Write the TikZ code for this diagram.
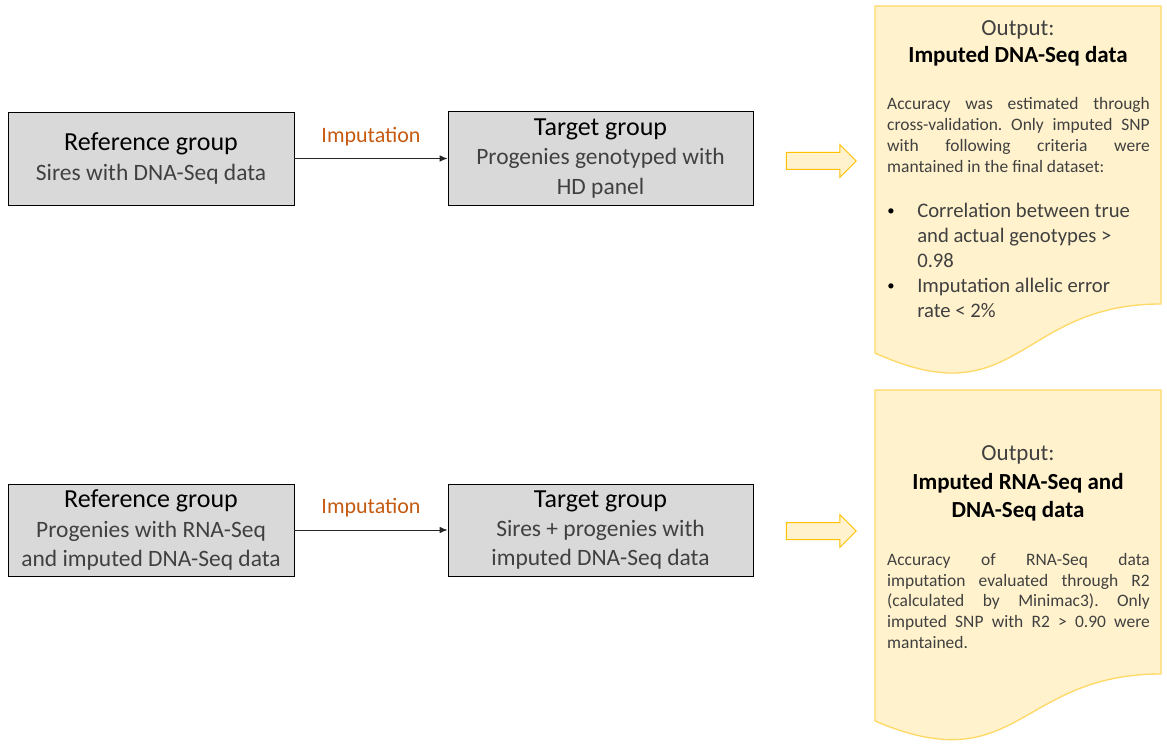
\documentclass[tikz,border=0pt]{standalone}
\usepackage{fontspec}
\setmainfont{Carlito}
\usetikzlibrary{shapes.arrows,arrows.meta}
\definecolor{boxgray}{HTML}{D9D9D9}
\definecolor{txtgray}{HTML}{404040}
\definecolor{imporange}{HTML}{C55A11}
\definecolor{docfill}{HTML}{FFF2CC}
\definecolor{docline}{HTML}{FFD966}
\definecolor{arrline}{HTML}{FFC000}
\newcommand{\grtitle}[1]{{\fontsize{19.5}{22}\selectfont\color{black}#1}}
\newcommand{\bul}{\raisebox{1.8pt}{\fontsize{11}{12}\selectfont\color{black}\textbullet}}
\frenchspacing

\begin{document}
\begin{tikzpicture}[x=0.75pt,y=-0.75pt]
 \tikzstyle{grp}=[rectangle, draw=black, fill=boxgray, line width=0.6pt, align=center, inner sep=0pt, text=txtgray, font=\fontsize{17.6}{22}\selectfont]
 \tikzstyle{imput}=[-{Latex[length=6pt,width=5pt]}, line width=0.75pt, black!85]
 \tikzstyle{lab}=[text=imporange, font=\fontsize{16.5}{20}\selectfont, inner sep=0pt]
 \tikzstyle{doc}=[draw=docline, fill=docfill, line width=1pt]
 \tikzstyle{hdr}=[align=center, inner sep=0pt, text=txtgray]
 \tikzstyle{para}=[text width=197pt, align=justify, inner sep=0pt, text=txtgray]
 \tikzstyle{bigarr}=[single arrow, draw=arrline, fill=docfill, line width=0.75pt, minimum height=52.5pt, minimum width=24pt, single arrow head extend=6pt, inner xsep=0pt, inner ysep=6pt]
 \useasboundingbox (0,0) rectangle (1167,748);
 %
 \path[doc] (875,6) -- (1161,6) -- (1161,304) .. controls (1018,304) and (1018,418) .. (875,353) -- cycle;
 \path[doc] (875,390) -- (1161,390) -- (1161,674) .. controls (1018,674) and (1018,782) .. (875,721) -- cycle;
 %
 \node[grp, minimum width=214.5pt, minimum height=69.75pt] (R1) at (151,158.5) {\grtitle{Reference group}\\Sires with DNA-Seq data};
 \node[grp, minimum width=228.75pt, minimum height=70.5pt] (T1) at (600.5,158.5) {\grtitle{Target group}\\Progenies genotyped with\\HD panel};
 \node[bigarr] (A1) at (817,161) {};
 %
 \node[hdr, font=\fontsize{17.25}{20.25}\selectfont] (O1) at (1018,43) {Output:\\\textcolor{black}{\textbf{Imputed DNA-Seq data}}};
 \node[para, font=\fontsize{13.1}{15.75}\selectfont] (P1) at (1018.5,135.5) {Accuracy was estimated through\linebreak cross-validation. Only imputed SNP\linebreak with following criteria were\linebreak mantained in the final dataset:};
 \node[inner sep=0pt, anchor=west, text=txtgray, font=\fontsize{15.5}{18.75}\selectfont] (B1) at (887,263) {\begin{tabular}{@{}p{22.5pt}@{}l@{}}\bul & Correlation between true\\ & and actual genotypes >\\ & 0.98\\ \bul & Imputation allelic error\\ & rate < 2\%\end{tabular}};
 %
 \node[grp, minimum width=214.5pt, minimum height=69pt] (R2) at (151,530) {\grtitle{Reference group}\\Progenies with RNA-Seq\\and imputed DNA-Seq data};
 \node[grp, minimum width=228.75pt, minimum height=69pt] (T2) at (600.5,530) {\grtitle{Target group}\\Sires + progenies with\\imputed DNA-Seq data};
 \node[bigarr] (A2) at (817,531) {};
 %
 \node[hdr, font=\fontsize{17.25}{21.4}\selectfont] (O2) at (1018,483.5) {Output:\\\textcolor{black}{\textbf{Imputed RNA-Seq and}}\\\textcolor{black}{\textbf{DNA-Seq data}}};
 \node[para, font=\fontsize{13.1}{15.5}\selectfont] (P2) at (1018.5,601) {Accuracy of RNA-Seq data\linebreak imputation evaluated through R2\linebreak (calculated by Minimac3). Only\linebreak imputed SNP with R2 > 0.90 were\linebreak mantained.};
 %%
 \draw[imput] (R1) -- node[lab, midway, yshift=16pt] (L1) {Imputation} (T1);
 \draw[imput] (R2) -- node[lab, midway, yshift=17pt] (L2) {Imputation} (T2);
\end{tikzpicture}
\end{document}
